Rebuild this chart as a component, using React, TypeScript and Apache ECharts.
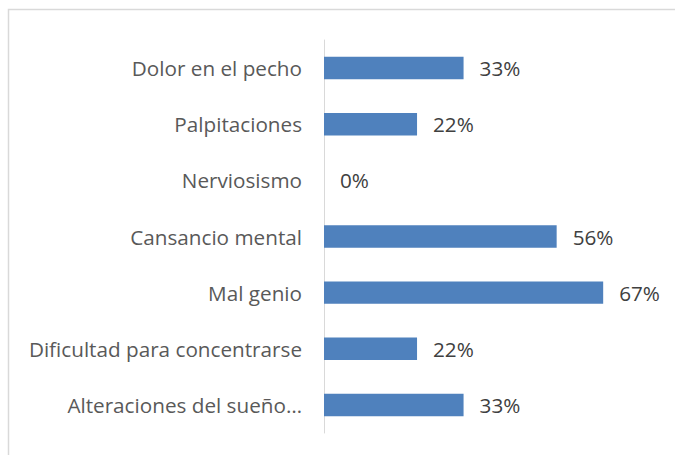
import React, { useEffect, useRef } from "react";
import * as echarts from "echarts";

const categories = [
  "Dolor en el pecho",
  "Palpitaciones",
  "Nerviosismo",
  "Cansancio mental",
  "Mal genio",
  "Dificultad para concentrarse",
  "Alteraciones del sueño…",
];
const values = [33.33, 22.22, 0, 55.56, 66.67, 22.22, 33.33];
const valueLabels = ["33%", "22%", "0%", "56%", "67%", "22%", "33%"];

export default function App() {
  const ref = useRef<HTMLDivElement>(null);
  useEffect(() => {
    if (!ref.current) return;
    const chart = echarts.init(ref.current, null, { renderer: "svg" });
    chart.setOption({
      animation: false,
      backgroundColor: "#ffffff",
      textStyle: { fontFamily: "Open Sans" },
      graphic: [
        {
          type: "rect",
          shape: { x: 8.5, y: 9.5, width: 700, height: 500 },
          style: { fill: "none", stroke: "#d9d9d9", lineWidth: 1.5 },
          silent: true,
          z: -1,
        },
      ],
      grid: { left: 324, right: 16, top: 40, bottom: 22, containLabel: false },
      xAxis: {
        type: "value",
        min: 0,
        max: 80,
        show: false,
      },
      yAxis: {
        type: "category",
        data: categories,
        inverse: true,
        axisLine: { show: true, lineStyle: { color: "#d9d9d9", width: 1 } },
        axisTick: { show: false },
        axisLabel: {
          color: "#595959",
          fontSize: 20.7,
          fontFamily: "Open Sans",
          margin: 22,
        },
      },
      series: [
        {
          type: "bar",
          data: values,
          barCategoryGap: "60%",
          itemStyle: { color: "#4f81bd" },
          label: {
            show: true,
            position: "right",
            distance: 16,
            color: "#404040",
            fontSize: 20.7,
            fontFamily: "Open Sans",
            formatter: (p: any) => valueLabels[p.dataIndex],
          },
        },
      ],
    });
    return () => chart.dispose();
  }, []);
  return (
    <div
      ref={ref}
      style={{ position: "fixed", left: 0, top: 0, width: 675, height: 455 }}
    />
  );
}
